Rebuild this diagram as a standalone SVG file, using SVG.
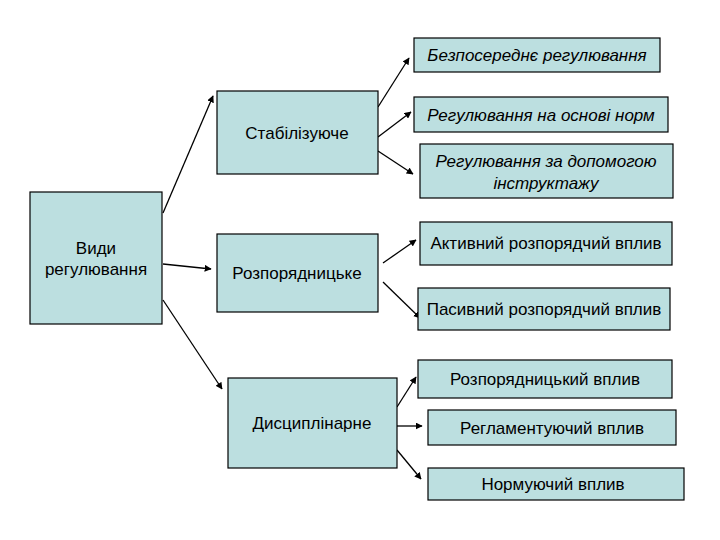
<svg xmlns="http://www.w3.org/2000/svg" width="720" height="540" viewBox="0 0 720 540">
<defs>
<marker id="ah" viewBox="0 0 10 10" refX="9" refY="5" markerWidth="7" markerHeight="7" orient="auto" markerUnits="userSpaceOnUse"><path d="M0,0 L10,5 L0,10 z" fill="#000"/></marker>
<style>
rect{fill:#bcdfe0;stroke:#000;stroke-width:1.2}
text{font-family:"Liberation Sans",Arial,sans-serif;font-size:17px;fill:#000;text-anchor:middle}
.i{font-style:italic}
line{stroke:#000;stroke-width:1.3;marker-end:url(#ah)}
</style>
</defs>
<rect width="720" height="540" style="fill:#fff;stroke:none"/>
<g id="connectors">
<line x1="163" y1="213" x2="213" y2="96"/>
<line x1="163" y1="264" x2="211" y2="269"/>
<line x1="163" y1="300" x2="222" y2="389"/>
<line x1="378" y1="107" x2="409" y2="58"/>
<line x1="378" y1="137" x2="411" y2="112"/>
<line x1="378" y1="151" x2="413" y2="174"/>
<line x1="383" y1="263" x2="416" y2="240"/>
<line x1="383" y1="282" x2="420" y2="318"/>
<line x1="397" y1="407" x2="416" y2="377"/>
<line x1="397" y1="426" x2="422" y2="426"/>
<line x1="397" y1="450" x2="421" y2="479"/>
</g>
<g id="n-vydy"><rect x="30" y="192" width="132" height="132"/><text x="96" y="254">Види</text><text x="96" y="275">регулювання</text></g>
<g id="n-stab"><rect x="217" y="91" width="161" height="83"/><text x="297" y="139">Стабілізуюче</text></g>
<g id="n-rozp"><rect x="217" y="234" width="161" height="78"/><text x="297" y="279">Розпорядницьке</text></g>
<g id="n-dysc"><rect x="228" y="378" width="169" height="90"/><text x="312" y="429">Дисциплінарне</text></g>
<g id="n-b1"><rect x="414" y="38" width="246" height="34"/><text class="i" x="537" y="61">Безпосереднє регулювання</text></g>
<g id="n-b2"><rect x="414" y="97" width="254" height="35"/><text class="i" x="541" y="121">Регулювання на основі норм</text></g>
<g id="n-b3"><rect x="420" y="144" width="253" height="54"/><text class="i" x="546" y="167">Регулювання за допомогою</text><text class="i" x="546" y="189">інструктажу</text></g>
<g id="n-b4"><rect x="420" y="222" width="252" height="43"/><text x="546" y="249">Активний розпорядчий вплив</text></g>
<g id="n-b5"><rect x="418" y="288" width="252" height="42"/><text x="544" y="315">Пасивний розпорядчий вплив</text></g>
<g id="n-b6"><rect x="418" y="360" width="254" height="38"/><text x="545" y="385">Розпорядницький вплив</text></g>
<g id="n-b7"><rect x="428" y="410" width="248" height="35"/><text x="552" y="434">Регламентуючий вплив</text></g>
<g id="n-b8"><rect x="428" y="468" width="256" height="32"/><text x="553" y="490">Нормуючий вплив</text></g>
</svg>
